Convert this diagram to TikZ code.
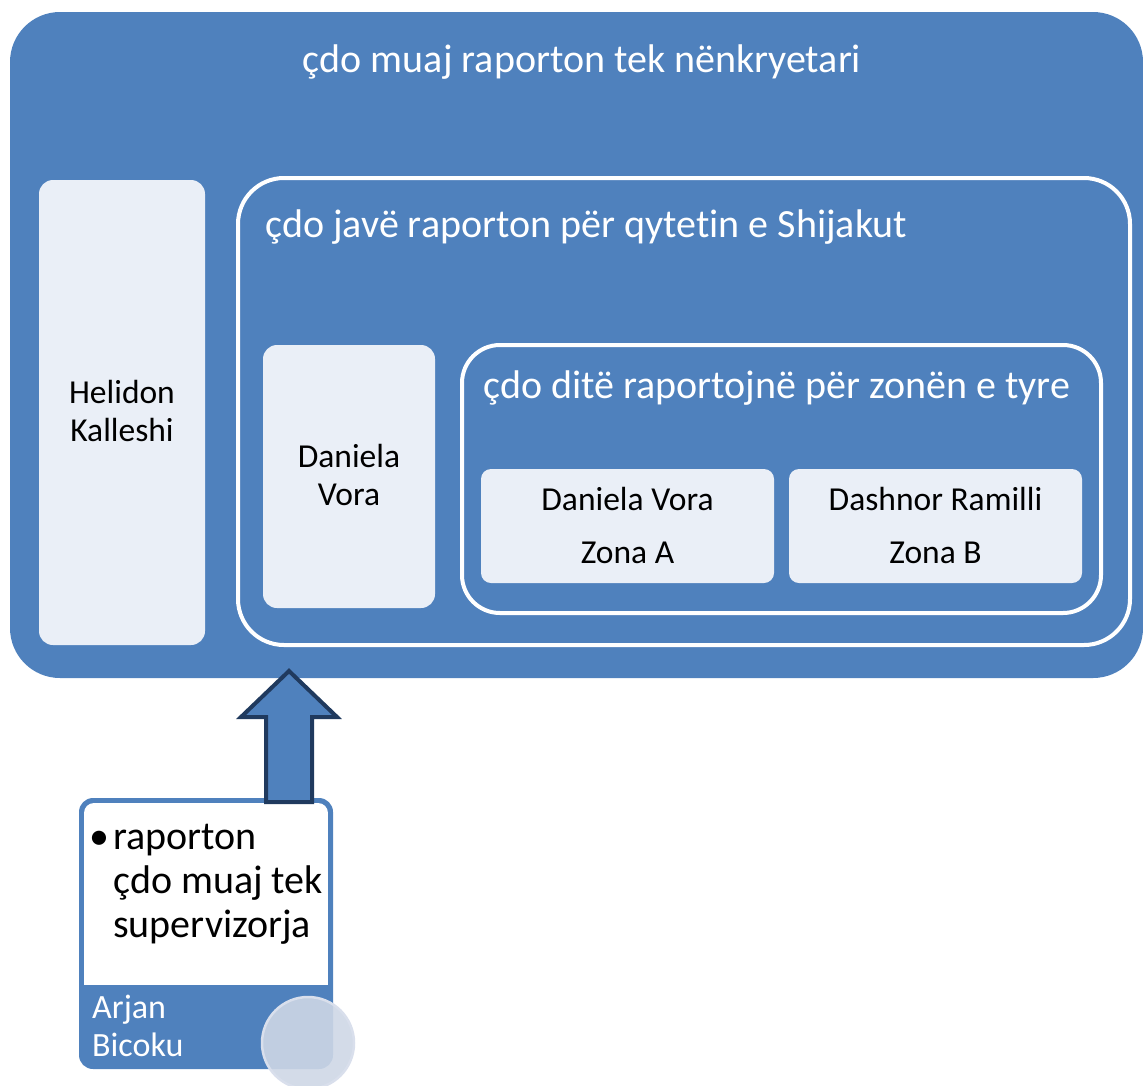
\documentclass[tikz,border=0pt]{standalone}
\usepackage{fontspec}
\setmainfont[Ligatures=NoCommon]{Carlito}
\definecolor{mblue}{HTML}{4F81BD}
\definecolor{lfill}{HTML}{EAEFF7}
\definecolor{navy}{HTML}{203A5E}
\definecolor{cfill}{HTML}{CED7E6}
\definecolor{cedge}{HTML}{D9DFEC}
\tikzset{
  outerbox/.style={fill=mblue, draw=none, rounded corners=50pt},
  whitebox/.style={draw=white, line width=4pt, fill=mblue},
  leafbox/.style={fill=lfill, draw=none, rounded corners=14pt},
  bigtxt/.style={font=\fontsize{40}{44}\selectfont, text=white, inner sep=0pt},
  leaftxt/.style={font=\fontsize{33.5}{37}\selectfont, text=black, inner sep=0pt},
  bodytxt/.style={font=\fontsize{40}{44}\selectfont, text=black, inner sep=0pt},
  nametxt/.style={font=\fontsize{34}{38}\selectfont, text=white, inner sep=0pt},
}
\begin{document}
\begin{tikzpicture}[x=1pt,y=-1pt]
\useasboundingbox (0,0) rectangle (1143,1085);
% outer
\path[outerbox] (10,12) rectangle (1143,678);
\node[bigtxt, anchor=base] (t0) at (582,72) {çdo muaj raporton tek nënkryetari};
% Helidon
\path[leafbox] (39,180) rectangle (205,645);
\node[leaftxt, anchor=base] (h1) at (122,403) {Helidon};
\node[leaftxt, anchor=base] (h2) at (122,441) {Kalleshi};
% weekly
\path[whitebox, rounded corners=46pt] (238,178) rectangle (1130,645);
\node[bigtxt, anchor=base west] (t1) at (265,237) {çdo javë raporton për qytet\kern0pt in e Shijakut};
% Daniela left
\path[leafbox] (263,345) rectangle (435,608);
\node[leaftxt, anchor=base] (d1) at (349,467) {Daniela};
\node[leaftxt, anchor=base] (d2) at (349,505) {Vora};
% daily
\path[whitebox, rounded corners=38pt] (462,345) rectangle (1101,613);
\node[bigtxt, anchor=base west] (t2) at (483,398) {çdo ditë raportojnë për zonën e tyre};
% Zona A
\path[leafbox, rounded corners=10pt] (481,469) rectangle (774,583);
\node[leaftxt, anchor=base] (za1) at (627.5,510) {Daniela Vora};
\node[leaftxt, anchor=base] (za2) at (627.5,563) {Zona A};
% Zona B
\path[leafbox, rounded corners=10pt] (789,469) rectangle (1082,583);
\node[leaftxt, anchor=base] (zb1) at (935.5,510) {Dashnor Ramilli};
\node[leaftxt, anchor=base] (zb2) at (935.5,563) {Zona B};
% Arjan box
\fill[mblue, rounded corners=14pt] (79,798) rectangle (333,1069);
\begin{scope}
\clip[rounded corners=10pt] (84,803) rectangle (328,1064);
\fill[white] (84,803) rectangle (328,985);
\end{scope}
\node[bodytxt, anchor=base] (bul) at (99,849) {\textbullet};
\node[bodytxt, anchor=base west] (a1) at (113,849) {raporton};
\node[bodytxt, anchor=base west] (a2) at (113,893) {çdo muaj tek};
\node[bodytxt, anchor=base west] (a3) at (113,937) {supervizorja};
\node[nametxt, anchor=base west] (n1) at (92,1018) {Arjan};
\node[nametxt, anchor=base west] (n2) at (92,1056) {Bicoku};
\node[circle, minimum size=92pt, fill=cfill, fill opacity=0.9, draw=cedge, line width=2.5pt, inner sep=0pt] (circ) at (308,1043) {};
% arrow
\coordinate (tip) at (289,671);
\draw[navy, line width=4pt, fill=mblue, line join=miter]
  (266,802) -- (266,717) -- (241,717) -- (tip) -- (337,717) -- (312,717) -- (312,802) -- cycle;
\end{tikzpicture}
\end{document}
